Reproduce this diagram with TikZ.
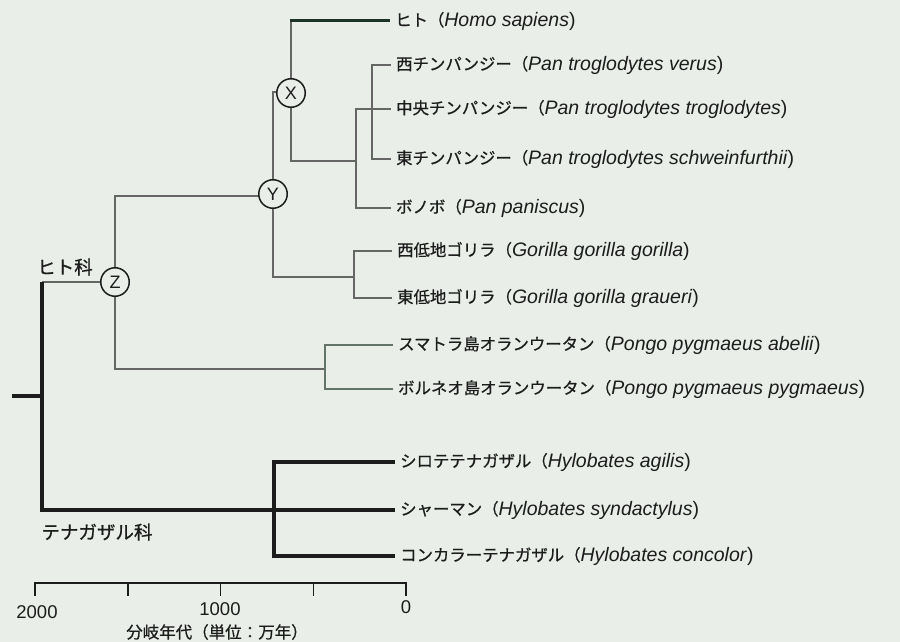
\documentclass[tikz,border=0pt]{standalone}
\usepackage{fontspec}
\setmainfont{Liberation Sans}
\newfontfamily\jpfont[FakeBold=0.7]{Noto Sans CJK JP}
\definecolor{paper}{HTML}{E9EEE9}
\definecolor{ink}{HTML}{1C1C1C}
\definecolor{hominid}{HTML}{666666}
\definecolor{orang}{HTML}{647469}
\definecolor{homo}{HTML}{1E3327}
% species label: Japanese name followed by the Latin binomial
\newcommand\taxon[2]{{\jpfont\fontsize{16.4}{20}\selectfont #1（}{\fontsize{19.5}{22}\selectfont\itshape #2\/}{\fontsize{19.5}{22}\selectfont )}}
\begin{document}
\begin{tikzpicture}[x=1pt,y=-1pt,
  thin branch/.style={draw=hominid,line width=1.7pt},
  orang branch/.style={draw=orang,line width=1.7pt},
  thick branch/.style={draw=ink,line width=3.2pt},
  homo branch/.style={draw=homo,line width=3pt},
  leaf/.style={anchor=west,inner xsep=5pt,inner ysep=0pt,text=ink},
  split/.style={circle,draw=ink,line width=1.5pt,minimum size=28.5pt,inner sep=0pt,
    font=\fontsize{18}{18}\selectfont,text=ink,fill=paper},
  group/.style={font=\jpfont\fontsize{18.5}{20}\selectfont,text=ink},
  axislabel/.style={font=\fontsize{18.5}{20}\selectfont,text=ink}]
\fill[paper] (0,0) rectangle (900,642);
\useasboundingbox (0,0) rectangle (900,642);

% leaves
\node[leaf] (homo)  at (390,21)  {\taxon{ヒト}{Homo sapiens}};
\node[leaf] (verus) at (391,65)  {\taxon{西チンパンジー}{Pan troglodytes verus}};
\node[leaf] (trog)  at (391,109) {\taxon{中央チンパンジー}{Pan troglodytes troglodytes}};
\node[leaf] (schw)  at (391,159) {\taxon{東チンパンジー}{Pan troglodytes schweinfurthii}};
\node[leaf] (bono)  at (391,208) {\taxon{ボノボ}{Pan paniscus}};
\node[leaf] (ggg)   at (392,251) {\taxon{西低地ゴリラ}{Gorilla gorilla gorilla}};
\node[leaf] (ggr)   at (392,298) {\taxon{東低地ゴリラ}{Gorilla gorilla graueri}};
\node[leaf] (abel)  at (393,345) {\taxon{スマトラ島オランウータン}{Pongo pygmaeus abelii}};
\node[leaf] (pygm)  at (393,389) {\taxon{ボルネオ島オランウータン}{Pongo pygmaeus pygmaeus}};
\node[leaf] (agil)  at (395,462) {\taxon{シロテテナガザル}{Hylobates agilis}};
\node[leaf] (synd)  at (395,510) {\taxon{シャーマン}{Hylobates syndactylus}};
\node[leaf] (conc)  at (395,556) {\taxon{コンカラーテナガザル}{Hylobates concolor}};

% internal splits
\coordinate (root)  at (12,396);
\coordinate (fam)   at (42,396);
\coordinate (chimp) at (372,109);
\coordinate (pan)   at (356,161);
\coordinate (gor)   at (354,277);
\coordinate (pon)   at (325,369);
\coordinate (hyl)   at (274,510);

% Hominidae
\draw[thin branch] (42,282) -- (115,282);
\draw[thin branch] (115,282) -- (115,196) -- (273,196);
\draw[thin branch] (115,282) -- (115,369) -- (pon);
\draw[orang branch] (pon) -- (325,345) -- (abel.west);
\draw[orang branch] (pon) -- (325,389) -- (pygm.west);
\draw[thin branch] (273,194) -- (273,92) -- (291,92);
\draw[thin branch] (273,194) -- (273,277) -- (gor);
\draw[thin branch] (gor) |- (ggg.west);
\draw[thin branch] (gor) |- (ggr.west);
\draw[thin branch] (291,93) -- (291,21);
\draw[homo branch] (289.5,21) -- (homo.west);
\draw[thin branch] (291,93) -- (291,161) -- (pan);
\draw[thin branch] (pan) -- (356,109) -- (chimp);
\draw[thin branch] (pan) |- (bono.west);
\draw[thin branch] (chimp) |- (verus.west);
\draw[thin branch] (chimp) -- (trog.west);
\draw[thin branch] (chimp) |- (schw.west);

\node[split] (Z) at (115,282) {Z};
\node[split] (Y) at (273,194) {Y};
\node[split] (X) at (291,93)  {X};

% Hylobatidae and the root
\draw[thick branch] (root) -- (fam);
\draw[thick branch] (42,282) -- (42,510) -- (hyl);
\draw[thick branch] (hyl) -- (synd.west);
\draw[thick branch] (hyl) |- (agil.west);
\draw[thick branch] (hyl) |- (conc.west);

\node[group] (hom)  at (65,267)  {ヒト科};
\node[group] (gib)  at (97,532)  {テナガザル科};

% time axis
\coordinate (a2000) at (35,583);
\coordinate (a0)    at (406,583);
\draw[ink,line width=1.5pt] (a2000) -- (a0);
\foreach \x in {35,127.75,220.5,313.25,406}
  \draw[ink,line width=1.5pt] (\x,582.25) -- (\x,596);
\node[axislabel] (t2000) at (37,612) {2000};
\node[axislabel] (t1000) at (220,609) {1000};
\node[axislabel] (t0)    at (406,607) {0};
\node[font=\jpfont\fontsize{16.5}{18}\selectfont,text=ink] (cap) at (217,632) {分岐年代（単位：万年）};
\end{tikzpicture}
\end{document}
